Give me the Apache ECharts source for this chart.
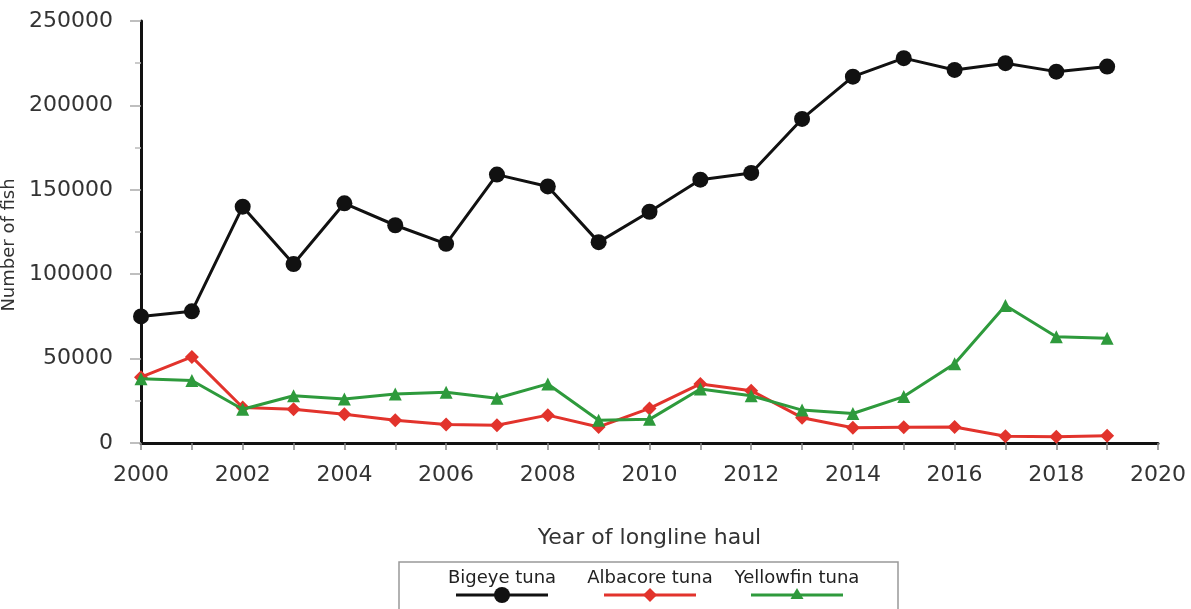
<!DOCTYPE html>
<html>
<head>
<meta charset="utf-8">
<script src="https://cdn.jsdelivr.net/npm/echarts@6/dist/echarts.min.js"></script>
<style>
  html, body { margin: 0; padding: 0; background: #fff; }
  #chart { width: 1191px; height: 609px; }
</style>
</head>
<body>
<div id="chart"></div>
<script>
// Annual catch per species, longline hauls 2000-2019
const years = [2000, 2001, 2002, 2003, 2004, 2005, 2006, 2007, 2008, 2009,
               2010, 2011, 2012, 2013, 2014, 2015, 2016, 2017, 2018, 2019];
const bigeye = [75000, 78000, 140000, 106000, 142000, 129000, 118000, 159000, 152000, 119000,
                137000, 156000, 160000, 192000, 217000, 228000, 221000, 225000, 220000, 223000];
const albacore = [39000, 51000, 21000, 20000, 17000, 13500, 11000, 10500, 16500, 9500,
                  20500, 35000, 31000, 15000, 9000, 9300, 9500, 4000, 3700, 4300];
const yellowfin = [38000, 37000, 20000, 28000, 26000, 29000, 30000, 26500, 35000, 13500,
                   14000, 32000, 28000, 19500, 17500, 27500, 47000, 81500, 63000, 62000];
const seriesNames = ['Bigeye tuna', 'Albacore tuna', 'Yellowfin tuna'];

const colors = { bigeye: '#111111', albacore: '#e2332c', yellowfin: '#2e9a3c' };
const font = '"DejaVu Sans", Verdana, sans-serif';

const pair = (vals) => years.map((y, i) => [y, vals[i]]);

const chart = echarts.init(document.getElementById('chart'), null, { renderer: 'canvas' });

// Legend box: name on top, sample line with marker below
function legendItem(cx, name, color) {
  return [
    { type: 'text', x: cx, y: 578, style: { text: name, fill: '#222', font: '18px ' + font, align: 'center', verticalAlign: 'middle' } },
    { type: 'line', shape: { x1: cx - 46, y1: 595, x2: cx + 46, y2: 595 }, style: { stroke: color, lineWidth: 3 } }
  ];
}

chart.setOption({
  animation: false,
  backgroundColor: '#ffffff',
  grid: { left: 141, right: 33, top: 21, bottom: 166, containLabel: false, outerBoundsMode: 'none' },
  xAxis: {
    type: 'value',
    min: 2000, max: 2020, interval: 2,
    name: 'Year of longline haul',
    nameLocation: 'middle', nameGap: 84,
    nameTextStyle: { fontFamily: font, fontSize: 22, color: '#333' },
    axisLine: { show: true, onZero: false, lineStyle: { color: '#111', width: 3 } },
    axisTick: { show: true, length: 7, lineStyle: { color: '#888', width: 1.5 } },
    minorTick: { show: true, splitNumber: 2, length: 7, lineStyle: { color: '#888', width: 1.5 } },
    axisLabel: { margin: 21, fontFamily: font, fontSize: 22, color: '#333', formatter: v => String(v) },
    splitLine: { show: false }
  },
  yAxis: {
    type: 'value',
    min: 0, max: 250000, interval: 50000,
    name: 'Number of fish',
    nameLocation: 'middle', nameGap: 112, nameRotate: 90,
    nameTextStyle: { fontFamily: font, fontSize: 18, color: '#333', padding: [0, 26, 0, 0] },
    axisLine: { show: true, lineStyle: { color: '#111', width: 3 } },
    axisTick: { show: true, length: 11, lineStyle: { color: '#aaa', width: 1.5 } },
    minorTick: { show: true, splitNumber: 2, length: 6, lineStyle: { color: '#bbb', width: 1.5 } },
    axisLabel: { margin: 28, fontFamily: font, fontSize: 22, color: '#333', formatter: v => String(v) },
    splitLine: { show: false }
  },
  series: [
    {
      name: seriesNames[0], type: 'line', data: pair(bigeye),
      symbol: 'circle', symbolSize: 16,
      lineStyle: { color: colors.bigeye, width: 3 },
      itemStyle: { color: colors.bigeye }, z: 3
    },
    {
      name: seriesNames[1], type: 'line', data: pair(albacore),
      symbol: 'diamond', symbolSize: 14,
      lineStyle: { color: colors.albacore, width: 3 },
      itemStyle: { color: colors.albacore }, z: 4
    },
    {
      name: seriesNames[2], type: 'line', data: pair(yellowfin),
      symbol: 'triangle', symbolSize: 13,
      lineStyle: { color: colors.yellowfin, width: 3 },
      itemStyle: { color: colors.yellowfin }, z: 5
    }
  ],
  graphic: [
    { type: 'rect', shape: { x: 399, y: 562, width: 499, height: 60 }, style: { fill: '#fff', stroke: '#999', lineWidth: 1.5 } },
    ...legendItem(502, seriesNames[0], colors.bigeye),
    { type: 'circle', shape: { cx: 502, cy: 595, r: 8 }, style: { fill: colors.bigeye } },
    ...legendItem(650, seriesNames[1], colors.albacore),
    { type: 'polygon', shape: { points: [[650, 588], [657, 595], [650, 602], [643, 595]] }, style: { fill: colors.albacore } },
    ...legendItem(797, seriesNames[2], colors.yellowfin),
    { type: 'polygon', shape: { points: [[797, 588], [803.5, 599], [790.5, 599]] }, style: { fill: colors.yellowfin } }
  ]
});
</script>
</body>
</html>
